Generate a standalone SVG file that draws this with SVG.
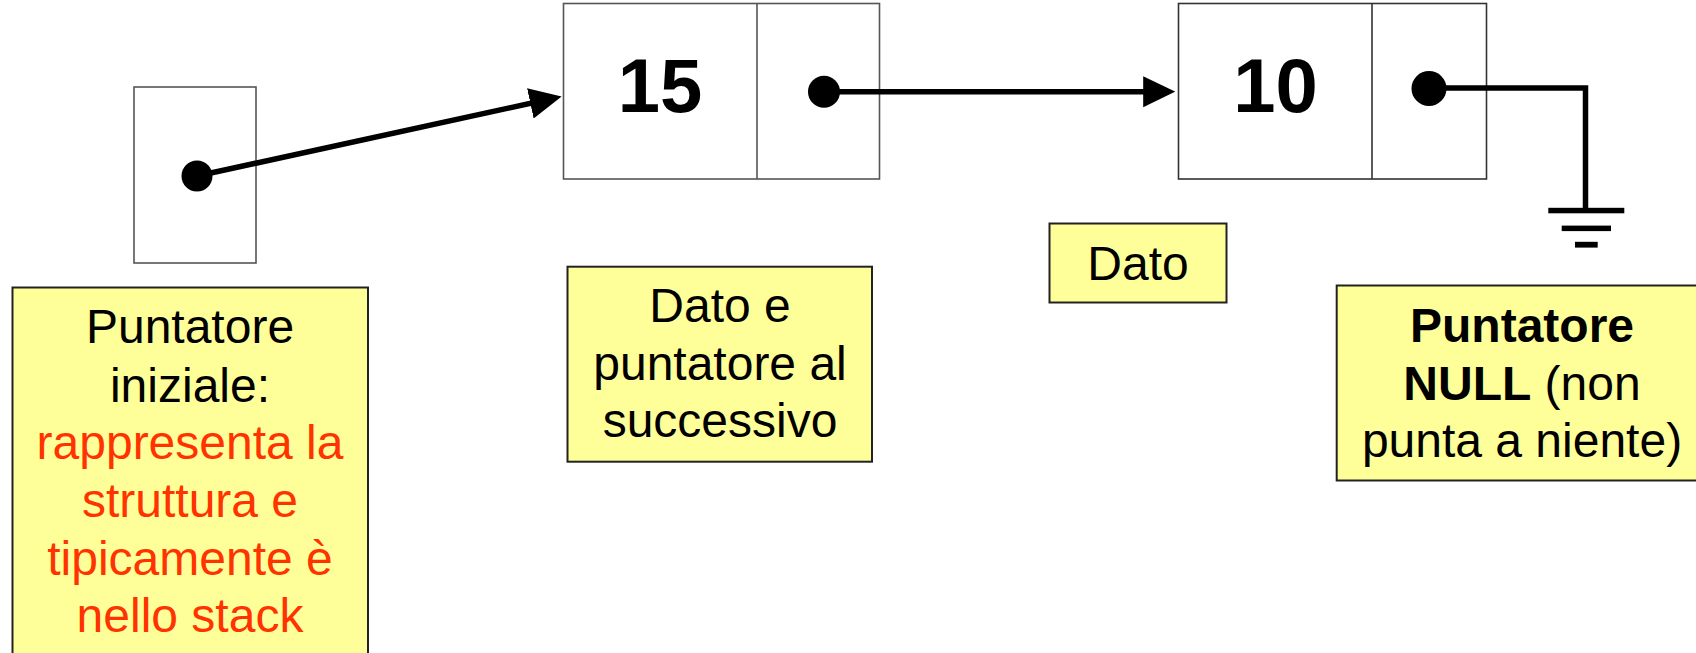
<svg xmlns="http://www.w3.org/2000/svg" width="1696" height="653" viewBox="0 0 1696 653">
<style>
.cell{fill:#fff;stroke:#555;stroke-width:1.6}
.note{fill:#ffff99;stroke:#222;stroke-width:2}
.t{font-family:"Liberation Sans",Arial,sans-serif;font-size:48px;text-anchor:middle;fill:#000}
.num{font-family:"Liberation Sans",Arial,sans-serif;font-size:76px;font-weight:bold;text-anchor:middle;fill:#000}
.red{fill:#ff3300}
.b{font-weight:bold}
.wire{fill:none;stroke:#000;stroke-width:5.5}
.dot{fill:#000}
</style>
<defs>
<marker id="arr" markerUnits="userSpaceOnUse" markerWidth="32" markerHeight="32" viewBox="0 0 30 29" refX="20" refY="14.5" orient="auto">
<path d="M0,0 L30,14.5 L0,29 z" fill="#000"/>
</marker>
</defs>
<rect width="1696" height="653" fill="#fff"/>

<g id="head">
<rect class="cell" x="134" y="87" width="122" height="176"/>
<circle class="dot" cx="197" cy="176" r="15.5"/>
</g>

<g id="node15">
<rect class="cell" x="563.5" y="3.5" width="316" height="175.5"/>
<line class="cell" x1="757" y1="3.5" x2="757" y2="179"/>
<text class="num" x="660" y="111.5">15</text>
<circle class="dot" cx="824" cy="91.7" r="16"/>
</g>

<g id="node10">
<rect class="cell" x="1178.5" y="3.5" width="308" height="175.5" style="stroke:#333"/>
<line class="cell" x1="1372" y1="3.5" x2="1372" y2="179" style="stroke:#333"/>
<text class="num" x="1275.5" y="111.5">10</text>
<circle class="dot" cx="1429" cy="88.5" r="17.5"/>
</g>

<g id="ground">
<rect x="1548.3" y="207.8" width="76" height="5.5" fill="#000"/>
<rect x="1561.7" y="225.6" width="49.3" height="5.5" fill="#000"/>
<rect x="1575" y="241.8" width="22.7" height="5.8" fill="#000"/>
</g>

<g id="connectors">
<line class="wire" x1="197" y1="176" x2="551.2" y2="98.8" marker-end="url(#arr)"/>
<line class="wire" x1="824" y1="91.7" x2="1164.5" y2="91.7" marker-end="url(#arr)"/>
<polyline class="wire" points="1429,88 1585.5,88 1585.5,210"/>
</g>

<g id="note-head">
<rect class="note" x="12.5" y="287.5" width="355.5" height="380"/>
<text class="t" x="190" y="343.3">Puntatore</text>
<text class="t" x="190" y="401.7">iniziale:</text>
<text class="t red" x="190" y="459">rappresenta la</text>
<text class="t red" x="190" y="517.3">struttura e</text>
<text class="t red" x="190" y="575">tipicamente è</text>
<text class="t red" x="190" y="632.3">nello stack</text>
</g>

<g id="note-node">
<rect class="note" x="567.5" y="266.7" width="304.5" height="195"/>
<text class="t" x="720" y="321.7">Dato e</text>
<text class="t" x="720" y="380">puntatore al</text>
<text class="t" x="720" y="436.7">successivo</text>
</g>

<g id="note-dato">
<rect class="note" x="1049.5" y="223.5" width="177" height="79"/>
<text class="t" x="1138" y="280">Dato</text>
</g>

<g id="note-null">
<rect class="note" x="1336.7" y="285.5" width="372" height="195"/>
<text class="t b" x="1522" y="341.5">Puntatore</text>
<text class="t" x="1522" y="399.5"><tspan class="b">NULL</tspan> (non</text>
<text class="t" x="1522" y="457">punta a niente)</text>
</g>
</svg>
